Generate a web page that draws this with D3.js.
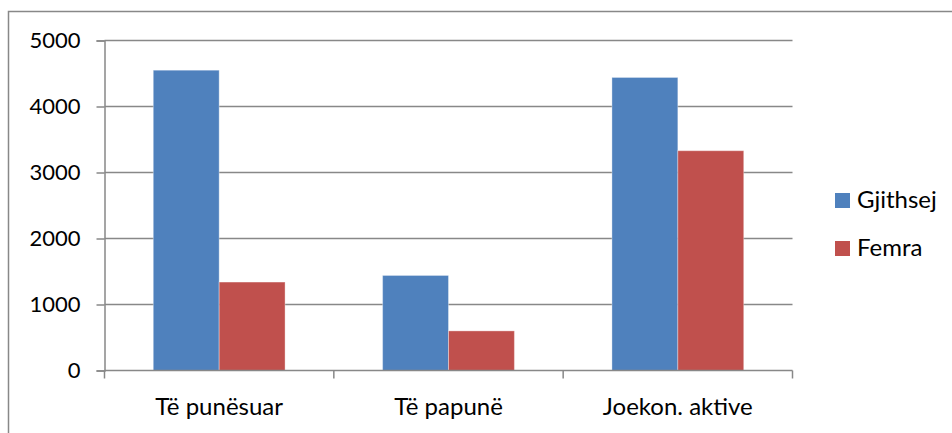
<!DOCTYPE html>
<html>
<head>
<meta charset="utf-8">
<script src="https://cdn.jsdelivr.net/npm/d3@7/dist/d3.min.js"></script>
<style>
  html, body { margin: 0; padding: 0; background: #fff; }
  svg { display: block; font-family: Lato, "Open Sans", sans-serif; }
</style>
</head>
<body>
<svg id="chart" width="952" height="433"></svg>
<script>
// Labour force figures by status
const categories = ["Të punësuar", "Të papunë", "Joekon. aktive"];
const seriesNames = ["Gjithsej", "Femra"];
const totalValues = [4550, 1440, 4440];
const femaleValues = [1340, 600, 3330];
const yTicks = [0, 1000, 2000, 3000, 4000, 5000];
const colors = ["#4F81BD", "#C0504D"];

const series = [totalValues, femaleValues];
const svg = d3.select("#chart");

// outer frame, clipped by the right and bottom edges
svg.append("rect")
  .attr("x", 8.5).attr("y", 11.5)
  .attr("width", 960).attr("height", 440)
  .attr("fill", "none").attr("stroke", "#888").attr("stroke-width", 1.5);

const plot = { left: 104.5, right: 792.5, top: 40.5, bottom: 370.5 };

const x = d3.scaleBand().domain(categories).range([plot.left, plot.right]);
const inner = d3.scaleBand().domain(d3.range(seriesNames.length))
  .range([0, x.bandwidth()]).paddingOuter(0.74);
const y = d3.scaleLinear().domain([0, 5000]).range([plot.bottom, plot.top]);

// horizontal gridlines
svg.append("g").selectAll("line").data(yTicks.filter(t => t > 0)).join("line")
  .attr("x1", plot.left).attr("x2", plot.right)
  .attr("y1", d => y(d)).attr("y2", d => y(d))
  .attr("stroke", "#888").attr("stroke-width", 1.5);

// bars
const groups = svg.append("g").selectAll("g").data(categories).join("g")
  .attr("transform", c => `translate(${x(c)},0)`);
groups.selectAll("rect")
  .data((c, i) => series.map((s, k) => ({ k, v: s[i] })))
  .join("rect")
  .attr("x", d => inner(d.k))
  .attr("width", inner.bandwidth())
  .attr("y", d => y(d.v))
  .attr("height", d => y(0) - y(d.v))
  .attr("fill", d => colors[d.k])
  .attr("stroke", "rgba(255,255,255,0.35)").attr("stroke-width", 1);

// y axis
const yAxis = svg.append("g").attr("transform", `translate(${plot.left},0)`)
  .call(d3.axisLeft(y).tickValues(yTicks).tickSize(8).tickPadding(16).tickFormat(d3.format("d")));
yAxis.select(".domain").attr("stroke", "#888").attr("stroke-width", 1.5);
yAxis.selectAll(".tick line").attr("stroke", "#888").attr("stroke-width", 1.5);
yAxis.selectAll("text").attr("font-size", 22).attr("fill", "#000")
  .attr("font-family", "Lato, 'Open Sans', sans-serif");

// x axis with ticks on category boundaries
const xAxisG = svg.append("g").attr("transform", `translate(0,${plot.bottom})`);
xAxisG.append("line")
  .attr("x1", plot.left).attr("x2", plot.right)
  .attr("stroke", "#888").attr("stroke-width", 1.5);
const boundaries = categories.map(c => x(c)).concat([plot.right]);
xAxisG.selectAll(".bt").data(boundaries).join("line").attr("class", "bt")
  .attr("x1", d => d).attr("x2", d => d).attr("y1", 0).attr("y2", 8)
  .attr("stroke", "#888").attr("stroke-width", 1.5);
xAxisG.selectAll("text").data(categories).join("text")
  .attr("x", c => x(c) + x.bandwidth() / 2)
  .attr("y", 44)
  .attr("text-anchor", "middle")
  .attr("font-size", 24).attr("fill", "#000")
  .text(c => c);

// legend
const legend = svg.append("g").attr("transform", "translate(835,193)");
const items = legend.selectAll("g").data(seriesNames).join("g")
  .attr("transform", (d, i) => `translate(0,${i * 48})`);
items.append("rect").attr("width", 15).attr("height", 15)
  .attr("fill", (d, i) => colors[i]);
items.append("text").attr("x", 22).attr("y", 15)
  .attr("font-size", 24).attr("fill", "#000").text(d => d);
</script>
</body>
</html>
